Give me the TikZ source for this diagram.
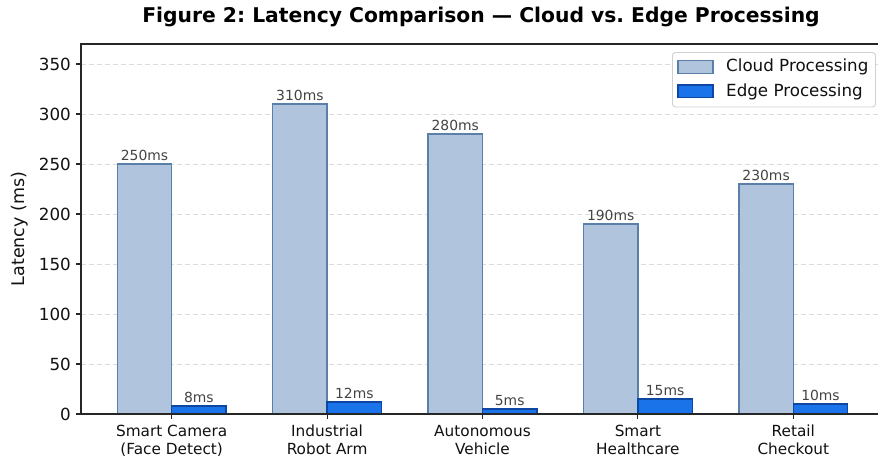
\documentclass[tikz,border=0pt]{standalone}
\usepackage{fontspec}
\setmainfont{DejaVu Sans}
\frenchspacing
\definecolor{cloudfill}{HTML}{B0C4DE}
\definecolor{cloudedge}{HTML}{5A7FA8}
\definecolor{edgefill}{HTML}{1A73E8}
\definecolor{edgeedge}{HTML}{0D47A1}
\definecolor{valtxt}{HTML}{444444}
\definecolor{gridc}{HTML}{DCDCDC}
\definecolor{legc}{HTML}{D0D0D0}
\definecolor{ticktxt}{HTML}{111111}
\tikzset{
  gridline/.style={gridc, line width=0.9pt, dash pattern=on 5pt off 3pt},
  cloudbar/.style={fill=cloudfill, draw=cloudedge, line width=1.3pt},
  edgebar/.style={fill=edgefill, draw=edgeedge, line width=1.3pt},
  spine/.style={black!85, line width=1.1pt},
  vallabel/.style={text=valtxt, font=\fontsize{13.9}{16}\selectfont, inner sep=0pt, anchor=base},
  ticklab/.style={text=ticktxt, font=\fontsize{16.7}{20}\selectfont, inner sep=0pt},
  catlab/.style={text=ticktxt, font=\fontsize{15.3}{18}\selectfont, inner sep=0pt, align=center, anchor=north},
}
\begin{document}
\begin{tikzpicture}[x=1pt,y=-1pt]
\useasboundingbox (0,0) rectangle (878,464);
\fill[white] (0,0) rectangle (878,464);
% grid
\foreach \v in {50,100,...,350} {
  \pgfmathsetmacro\yy{414-\v}
  \draw[gridline] (81,\yy) -- (878,\yy);
}
% bars
\foreach \i/\c/\e/\name in {0/250/8/a,1/310/12/b,2/280/5/c,3/190/15/d,4/230/10/e} {
  \pgfmathsetmacro\cx{171.7+155.4*\i}
  \pgfmathsetmacro\cl{\cx-54.4}
  \pgfmathsetmacro\cr{\cx+54.4}
  \pgfmathsetmacro\ctop{414-\c}
  \pgfmathsetmacro\etop{414-\e}
  \pgfmathsetmacro\cmid{\cx-27.2}
  \pgfmathsetmacro\emid{\cx+27.2}
  \pgfmathsetmacro\clab{\ctop-4}
  \pgfmathsetmacro\elab{\etop-4}
  \draw[cloudbar] (\cl,414) rectangle (\cx,\ctop);
  \draw[edgebar] (\cx,414) rectangle (\cr,\etop);
  \node[vallabel] (cv\name) at (\cmid,\clab) {\c ms};
  \node[vallabel] (ev\name) at (\emid,\elab) {\e ms};
  \draw[spine] (\cx,414) -- (\cx,419);
}
% spines
\draw[spine] (878,44) -- (81,44) -- (81,414) -- (878,414);
% y ticks
\foreach \v in {0,50,...,350} {
  \pgfmathsetmacro\yy{414-\v}
  \draw[spine] (76,\yy) -- (81,\yy);
  \node[ticklab, anchor=east] (yt\v) at (71,\yy) {\v};
}
% category labels
\node[catlab] (xa) at (171.7,425) {Smart Camera\\(Face Detect)};
\node[catlab] (xb) at (327.1,425) {Industrial\\Robot Arm};
\node[catlab] (xc) at (482.5,425) {Autonomous\\Vehicle};
\node[catlab] (xd) at (637.9,425) {Smart\\Healthcare};
\node[catlab] (xe) at (793.3,425) {Retail\\Checkout};
% axis label
\node[ticklab, rotate=90, font=\fontsize{17.5}{20}\selectfont] (ylab) at (20,229) {Latency (ms)};
% title
\node[inner sep=0pt, font=\fontsize{20.3}{24}\selectfont\bfseries] (title) at (481,17) {Figure 2: Latency Comparison — Cloud vs. Edge Processing};
% legend
\draw[legc, fill=white, rounded corners=3pt, line width=0.9pt] (672.5,52.5) rectangle (875.5,107);
\draw[cloudbar] (678,60.5) rectangle (713,73.5);
\draw[edgebar] (678,85) rectangle (713,97.5);
\node[ticklab, anchor=west] (lg1) at (726,67) {Cloud Processing};
\node[ticklab, anchor=west] (lg2) at (726,91.5) {Edge Processing};
\end{tikzpicture}
\end{document}
